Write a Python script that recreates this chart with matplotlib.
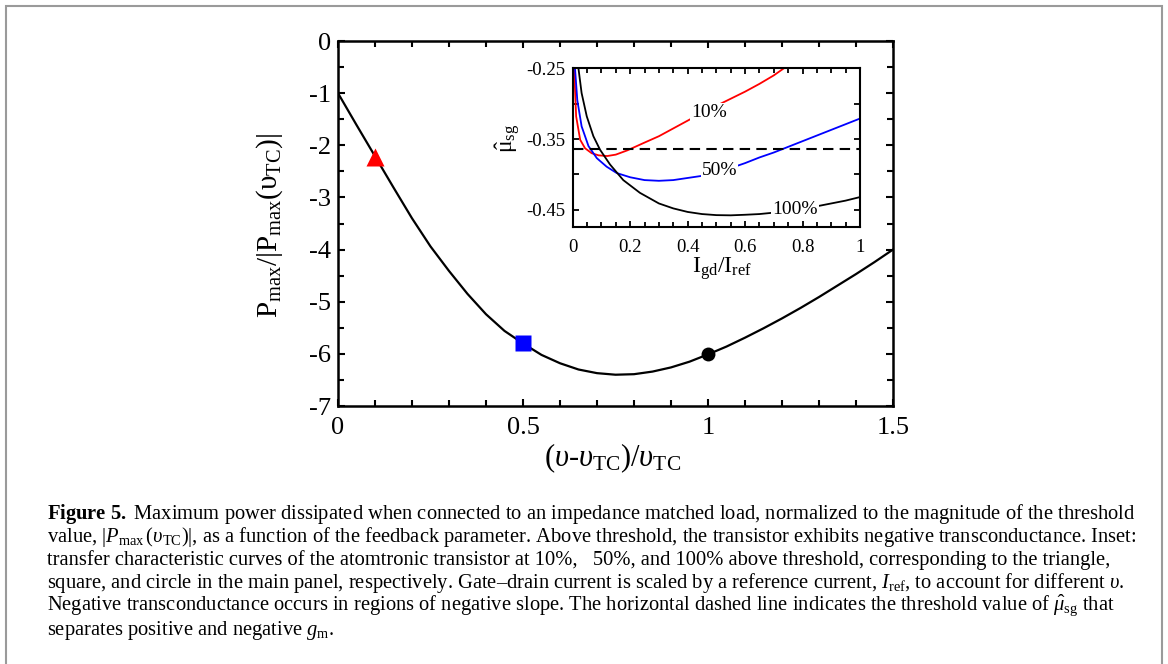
import matplotlib
matplotlib.use("Agg")
import matplotlib.pyplot as plt
from matplotlib.ticker import MultipleLocator
from matplotlib.patches import Rectangle

# ---------------- data ----------------
# main panel: normalized max power vs feedback parameter
main_x = [0.00, 0.05, 0.10, 0.15, 0.20, 0.25, 0.30, 0.35, 0.40, 0.45, 0.50,
          0.55, 0.60, 0.65, 0.70, 0.75, 0.80, 0.85, 0.90, 0.95, 1.00,
          1.05, 1.10, 1.15, 1.20, 1.25, 1.30, 1.35, 1.40, 1.45, 1.50]
main_y = [-1.00, -1.61, -2.21, -2.81, -3.40, -3.94, -4.41, -4.85, -5.24, -5.56, -5.80,
          -6.02, -6.18, -6.30, -6.37, -6.40, -6.39, -6.34, -6.26, -6.15, -6.01,
          -5.86, -5.69, -5.51, -5.32, -5.12, -4.91, -4.69, -4.47, -4.24, -4.00]

marker_x = [0.1, 0.5, 1.0]
marker_y = [-2.22, -5.80, -6.01]

# inset: transfer characteristics
red_x = [0.005, 0.012, 0.026, 0.043, 0.066, 0.09, 0.12, 0.15, 0.19, 0.25, 0.30,
         0.35, 0.40, 0.45, 0.50, 0.55, 0.60, 0.65, 0.70, 0.735]
red_y = [-0.25, -0.318, -0.351, -0.363, -0.370, -0.373, -0.374, -0.372, -0.366, -0.355, -0.346,
         -0.335, -0.324, -0.313, -0.303, -0.293, -0.283, -0.272, -0.260, -0.250]

blue_x = [0.008, 0.016, 0.031, 0.055, 0.084, 0.118, 0.153, 0.20, 0.25, 0.30, 0.35,
          0.40, 0.45, 0.50, 0.55, 0.60, 0.65, 0.70, 0.75, 0.80, 0.85, 0.90, 0.95, 1.00]
blue_y = [-0.25, -0.295, -0.332, -0.360, -0.377, -0.389, -0.398, -0.404, -0.408, -0.409, -0.408,
          -0.405, -0.402, -0.397, -0.391, -0.384, -0.376, -0.369, -0.361, -0.353, -0.345,
          -0.337, -0.329, -0.321]

black_x = [0.020, 0.031, 0.049, 0.072, 0.095, 0.13, 0.176, 0.234, 0.30, 0.35, 0.40,
           0.45, 0.50, 0.55, 0.60, 0.65, 0.70, 0.75, 0.80, 0.85, 0.90, 0.95, 1.00]
black_y = [-0.25, -0.285, -0.318, -0.346, -0.365, -0.386, -0.408, -0.426, -0.441, -0.448, -0.453,
           -0.456, -0.4575, -0.4578, -0.457, -0.456, -0.454, -0.451, -0.448, -0.445, -0.441,
           -0.437, -0.432]

threshold = -0.364

curve_labels = ["10%", "50%", "100%"]
label_x = [0.474, 0.51, 0.774]
label_y = [-0.312, -0.394, -0.450]

caption_lines = [
    r"$\mathbf{Figure\ 5.}$ Maximum power dissipated when connected to an impedance matched load, normalized to the magnitude of the threshold",
    r"value, $|P_{\rm max}\,(\upsilon_{\rm TC})|$, as a function of the feedback parameter. Above threshold, the transistor exhibits negative transconductance. Inset:",
    r"transfer characteristic curves of the atomtronic transistor at 10%,   50%, and 100% above threshold, corresponding to the triangle,",
    r"square, and circle in the main panel, respectively. Gate–drain current is scaled by a reference current, $I_{\rm ref}$, to account for different $\upsilon$.",
    r"Negative transconductance occurs in regions of negative slope. The horizontal dashed line indicates the threshold value of $\hat{\mu}_{\rm sg}$ that",
    r"separates positive and negative $g_{\rm m}$.",
]

# ---------------- style ----------------
plt.rcParams["font.family"] = ["Liberation Serif", "DejaVu Serif"]
plt.rcParams["mathtext.fontset"] = "custom"
plt.rcParams["mathtext.rm"] = "Liberation Serif"
plt.rcParams["mathtext.it"] = "Liberation Serif:italic"
plt.rcParams["mathtext.bf"] = "Liberation Serif:bold"

W, H = 1168, 664
fig = plt.figure(figsize=(W / 100, H / 100), dpi=100)

def frac(l, t, r, b):
    return [l / W, 1 - b / H, (r - l) / W, (b - t) / H]

# border
fig.patches.append(Rectangle((5.5 / W, -0.05), (1161.5 - 5.5) / W, 1.05 - 5.5 / H,
                             transform=fig.transFigure, fill=False,
                             edgecolor="#9a9a9a", linewidth=1.5))

# ---------------- main axes ----------------
ax = fig.add_axes(frac(338, 41, 893, 406))
ax.plot(main_x, main_y, color="black", lw=1.6, zorder=2, solid_joinstyle="round")
ax.plot(marker_x[0], marker_y[0], marker="^", color="red", ms=13, zorder=3, mec="none")
ax.plot(marker_x[1], marker_y[1], marker="s", color="blue", ms=11, zorder=3, mec="none")
ax.plot(marker_x[2], marker_y[2], marker="o", color="black", ms=10, zorder=3, mec="none")
ax.set_xlim(0, 1.5)
ax.set_ylim(-7, 0)
ax.xaxis.set_minor_locator(MultipleLocator(0.1))
ax.yaxis.set_minor_locator(MultipleLocator(0.5))
ax.set_xticks([0, 0.5, 1, 1.5])
ax.set_xticklabels(["0", "0.5", "1", "1.5"])
ax.set_yticks([0, -1, -2, -3, -4, -5, -6, -7])
ax.set_yticklabels(["0", "-1", "-2", "-3", "-4", "-5", "-6", "-7"])
ax.tick_params(which="both", direction="in", top=True, right=True, width=1.5)
ax.tick_params(which="major", length=5)
ax.tick_params(which="minor", length=4)
ax.tick_params(axis="x", which="major", labelsize=19, pad=8)
ax.tick_params(axis="y", which="major", labelsize=19, pad=5)
for s in ax.spines.values():
    s.set_linewidth(1.8)
ax.set_xlabel(r"$(\upsilon$-$\upsilon_{\rm TC})/\upsilon_{\rm TC}$", fontsize=22)
ax.xaxis.set_label_coords(0.495, -0.142)
ax.xaxis.label.set_va("center")
ax.set_ylabel(r"$\rm P_{max}/|P_{max}(\mathrm{\upsilon}_{TC})|$", fontsize=21)
ax.yaxis.set_label_coords(-0.1225, 0.495)
ax.yaxis.label.set_va("center")

# ---------------- inset ----------------
ins = fig.add_axes(frac(572.7, 68.3, 860, 227.5))
ins.plot(red_x, red_y, color="red", lw=1.3, solid_joinstyle="round")
ins.plot(blue_x, blue_y, color="blue", lw=1.3, solid_joinstyle="round")
ins.plot(black_x, black_y, color="black", lw=1.3, solid_joinstyle="round")
ins.axhline(threshold, color="black", lw=1.5, ls=(0, (5, 3)))
for lbl, lx, ly in zip(curve_labels, label_x, label_y):
    ins.text(lx, ly, lbl, fontsize=14, ha="center", va="center", zorder=5,
             bbox=dict(boxstyle="square,pad=0.05", fc="white", ec="none"))
ins.set_xlim(0, 1)
ins.set_ylim(-0.475, -0.25)
ins.set_xticks([0, 0.2, 0.4, 0.6, 0.8, 1])
ins.set_xticklabels(["0", "0.2", "0.4", "0.6", "0.8", "1"])
ins.xaxis.set_minor_locator(MultipleLocator(0.05))
ins.set_yticks([-0.25, -0.35, -0.45])
ins.set_yticklabels(["-0.25", "-0.35", "-0.45"])
ins.set_yticks([-0.30, -0.40], minor=True)
ins.tick_params(which="both", direction="in", top=True, right=True, width=1.3)
ins.tick_params(which="major", length=4.5)
ins.tick_params(which="minor", length=3.5)
ins.tick_params(axis="y", which="minor", length=4.5)
ins.tick_params(axis="x", which="major", labelsize=13.5, pad=8)
ins.tick_params(axis="y", which="major", labelsize=13.5, pad=5)
for s in ins.spines.values():
    s.set_linewidth(1.5)
ins.set_xlabel(r"$\rm I_{gd}/I_{ref}$", fontsize=17)
ins.xaxis.set_label_coords(0.52, -0.26)
ins.xaxis.label.set_va("center")
ins.set_ylabel(r"$\hat{\mathrm{\mu}}_{\rm sg}$", fontsize=17)
ins.yaxis.set_label_coords(-0.225, 0.562)
ins.yaxis.label.set_va("center")

# ---------------- caption ----------------
cap_y = [514, 537, 560, 583, 606, 630]
for line, y in zip(caption_lines, cap_y):
    fig.text(47 / W, 1 - y / H, line, fontsize=14.8, ha="left", va="center")

fig.savefig("out.png", dpi=100)
